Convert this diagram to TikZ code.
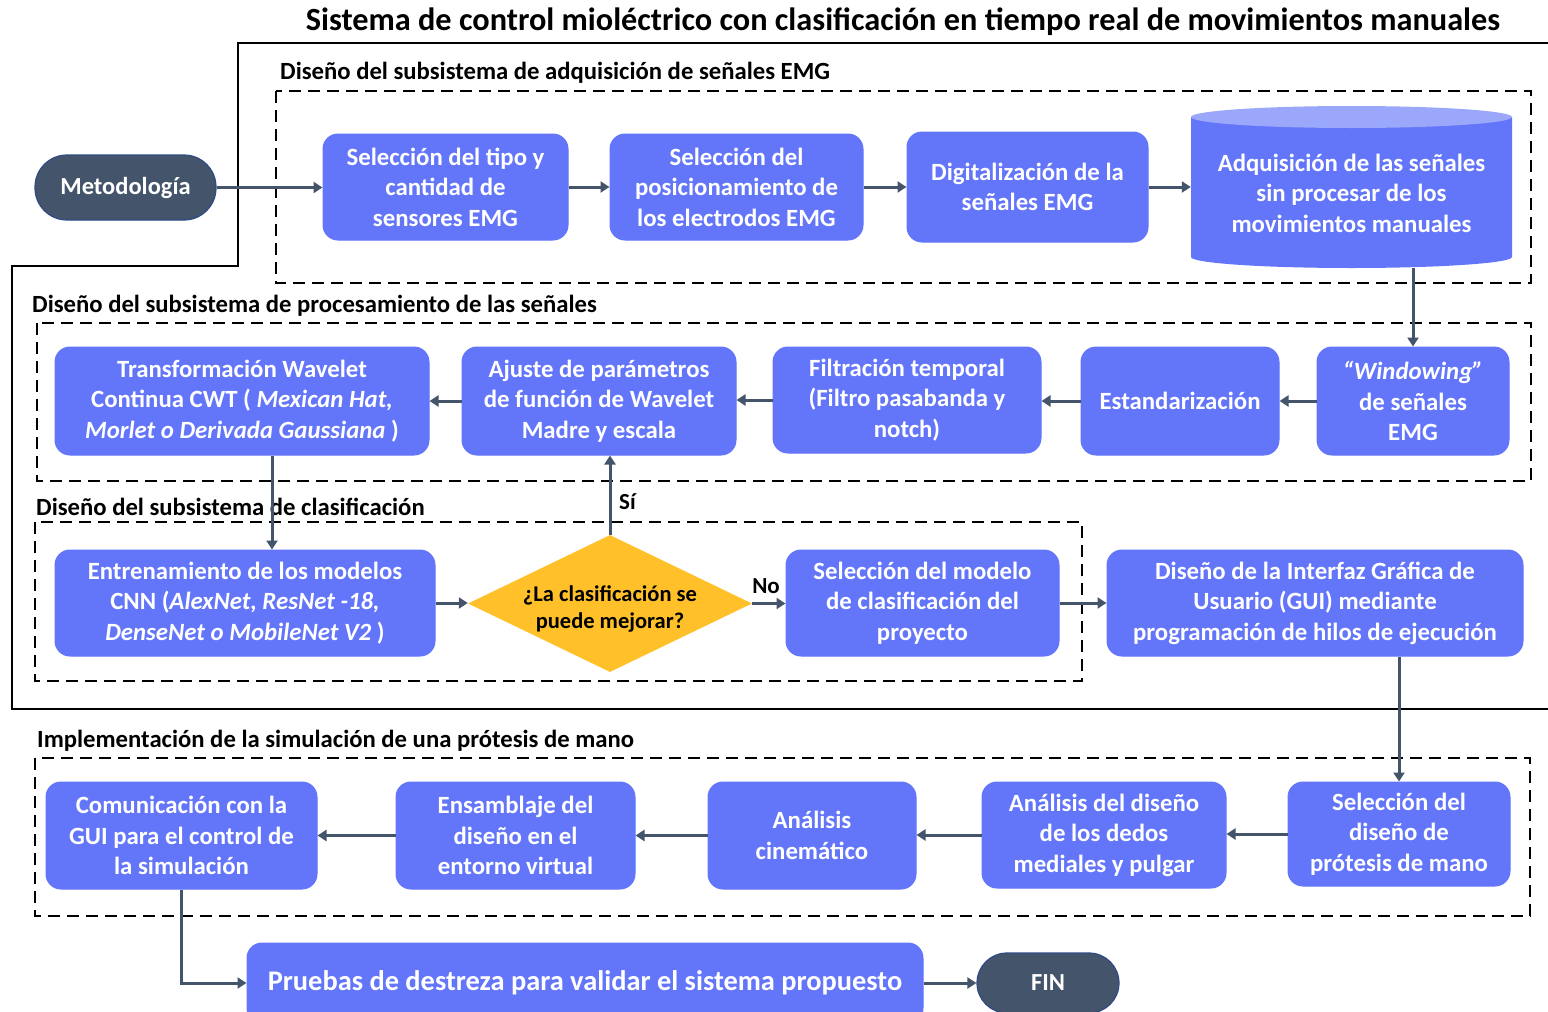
\documentclass[tikz,border=0pt]{standalone}
\usepackage{fontspec}
\setmainfont{Carlito}
\usetikzlibrary{arrows.meta,shapes.geometric,calc}
\definecolor{boxblue}{HTML}{6376F9}
\definecolor{slate}{HTML}{44546A}
\definecolor{slateedge}{HTML}{2F4B85}
\definecolor{amber}{HTML}{FFC02A}
\definecolor{cyltop}{HTML}{9AA7FB}
\begin{document}
\begin{tikzpicture}[x=1pt,y=-1pt,
  box/.style={draw=boxblue, line width=1pt, fill=boxblue, rounded corners=15pt,
    text=white, font=\bfseries\fontsize{24.8}{30.5}\selectfont, align=center, inner sep=0pt},
  term/.style={draw=slateedge, line width=1.2pt, fill=slate, text=white,
    font=\bfseries\fontsize{24.5}{28}\selectfont, align=center, inner sep=0pt},
  arr/.style={draw=slate, line width=3pt, -{Triangle[length=9pt,width=11pt]}},
  zone/.style={draw=black, line width=2pt, dash pattern=on 12pt off 7pt},
  zonelabel/.style={anchor=west, inner sep=0pt, font=\bfseries\fontsize{24.7}{28}\selectfont},
  tag/.style={inner sep=0pt, font=\bfseries\fontsize{23}{26}\selectfont}
]
\useasboundingbox (0,0) rectangle (1548,1012);

% title and outer frame
\node[font=\bfseries\fontsize{32.3}{36}\selectfont, inner sep=0pt] (title) at (903,22)
  {Sistema de control mioléctrico con clasificación en tiempo real de movimientos manuales};
\draw[line width=2.5pt, line join=miter]
  (1548,43) -- (238,43) -- (238,266) -- (12,266) -- (12,709) -- (1548,709);

% dashed stage zones
\draw[zone] (276,91) rectangle (1531,283);
\draw[zone] (37,323) rectangle (1531,481);
\draw[zone] (35,522) rectangle (1082,681);
\draw[zone] (35,758) rectangle (1530,916);
\node[zonelabel] (lab1) at (280,73) {Diseño del subsistema de adquisición de señales EMG};
\node[zonelabel] (lab2) at (32,306) {Diseño del subsistema de procesamiento de las señales};
\node[zonelabel] (lab3) at (36,506.5) {Diseño del subsistema de clasificación};
\node[zonelabel] (lab4) at (37,741) {Implementación de la simulación de una prótesis de mano};

% start terminal
\node[term, rounded corners=32pt, minimum width=181pt, minimum height=65pt] (met) at (125.5,187.5) {Metodología};

% acquisition stage
\node[box, minimum width=245pt, minimum height=106pt] (s1) at (445.5,187)
  {Selección del tipo y\\cantidad de\\sensores EMG};
\node[box, minimum width=253pt, minimum height=106pt] (s2) at (736.5,187)
  {Selección del\\posicionamiento de\\los electrodos EMG};
\node[box, minimum width=241pt, minimum height=110pt] (s3) at (1027.5,187)
  {Digitalización de la\\señales EMG};

% storage cylinder
\fill[boxblue] (1191,117) -- (1191,257)
  arc[start angle=180, end angle=360, x radius=160.5pt, y radius=11pt] -- (1512,117) -- cycle;
\fill[cyltop] (1351.5,117) ellipse[x radius=160.5pt, y radius=11pt];
\node[inner sep=0pt, minimum width=321pt, minimum height=162pt] (cyl) at (1351.5,187) {};
\node[text=white, font=\bfseries\fontsize{24.8}{30.5}\selectfont, align=center, inner sep=0pt] (cyltext) at (1351.5,193)
  {Adquisición de las señales\\sin procesar de los\\movimientos manuales};

% processing stage
\node[box, minimum width=192pt, minimum height=108pt] (win) at (1413,401)
  {\textit{“Windowing”}\\de señales\\EMG};
\node[box, minimum width=198pt, minimum height=108pt] (est) at (1180,401) {Estandarización};
\node[box, minimum width=268pt, minimum height=106pt] (filt) at (907,400)
  {Filtración temporal\\(Filtro pasabanda y\\notch)};
\node[box, minimum width=274pt, minimum height=108pt] (aj) at (599,401)
  {Ajuste de parámetros\\de función de Wavelet\\Madre y escala};
\node[box, minimum width=374pt, minimum height=108pt] (cwt) at (242,401)
  {Transformación Wavelet\\Continua CWT ( \textit{Mexican Hat,}\\\textit{Morlet o Derivada Gaussiana} )};

% classification stage
\node[box, minimum width=380pt, minimum height=106pt] (cnn) at (245,603)
  {Entrenamiento de los modelos\\CNN (\textit{AlexNet, ResNet -18,}\\\textit{DenseNet o MobileNet V2} )};
\node[diamond, fill=amber, inner sep=0pt, minimum width=284pt, minimum height=137pt] (dec) at (610,603.5) {};
\node[align=center, inner sep=0pt, font=\bfseries\fontsize{22.5}{27}\selectfont] (dectext) at (610,609)
  {¿La clasificación se\\puede mejorar?};
\node[box, minimum width=273pt, minimum height=106pt] (sel) at (922.5,603)
  {Selección del modelo\\de clasificación del\\proyecto};
\node[box, minimum width=416pt, minimum height=106pt] (gui) at (1315,603)
  {Diseño de la Interfaz Gráfica de\\Usuario (GUI) mediante\\programación de hilos de ejecución};

% implementation stage
\node[box, minimum width=222pt, minimum height=104pt] (sd) at (1399,834)
  {Selección del\\diseño de\\prótesis de mano};
\node[box, minimum width=244pt, minimum height=106pt] (ad) at (1104,835)
  {Análisis del diseño\\de los dedos\\mediales y pulgar};
\node[box, minimum width=208pt, minimum height=107pt] (ac) at (812,835.5)
  {Análisis\\cinemático};
\node[box, minimum width=239pt, minimum height=107pt] (ens) at (515.5,835.5)
  {Ensamblaje del\\diseño en el\\entorno virtual};
\node[box, minimum width=271pt, minimum height=107pt] (com) at (181.5,835.5)
  {Comunicación con la\\GUI para el control de\\la simulación};

% validation and end
\node[box, font=\bfseries\fontsize{28.4}{32}\selectfont, minimum width=676pt, minimum height=80pt] (pru) at (585,983)
  {Pruebas de destreza para validar el sistema propuesto};
\node[term, rounded corners=30pt, minimum width=142pt, minimum height=60pt] (fin) at (1048,983) {FIN};

% guide coordinate for the off-centre drop into the training box
\coordinate (xcwt) at (272,0);

% connectors
\draw[arr] (met.east) -- (met.east -| s1.west);
\draw[arr] (s1.east) -- (s1.east -| s2.west);
\draw[arr] (s2.east) -- (s2.east -| s3.west);
\draw[arr] (s3.east) -- (s3.east -| cyl.west);
\draw[arr] (win.north |- cyl.south) -- (win.north);
\draw[arr] (win.west) -- (win.west -| est.east);
\draw[arr] (est.west) -- (est.west -| filt.east);
\draw[arr] (filt.west) -- (filt.west -| aj.east);
\draw[arr] (aj.west) -- (aj.west -| cwt.east);
\draw[arr] (cwt.south -| xcwt) -- (cnn.north -| xcwt);
\draw[arr] (cnn.east) -- (cnn.east -| dec.west);
\draw[arr] (dec.north) -- (dec.north |- aj.south);
\draw[arr] (dec.east) -- (dec.east -| sel.west);
\draw[arr] (sel.east) -- (sel.east -| gui.west);
\draw[arr] (sd.north |- gui.south) -- (sd.north);
\draw[arr] (sd.west) -- (sd.west -| ad.east);
\draw[arr] (ad.west) -- (ad.west -| ac.east);
\draw[arr] (ac.west) -- (ac.west -| ens.east);
\draw[arr] (ens.west) -- (ens.west -| com.east);
\draw[arr] (com.south) |- (pru.west);
\draw[arr] (pru.east) -- (pru.east -| fin.west);

% branch labels
\node[tag, anchor=west] (si) at (619,502) {Sí};
\node[tag] (no) at (766,586) {No};
\end{tikzpicture}
\end{document}
